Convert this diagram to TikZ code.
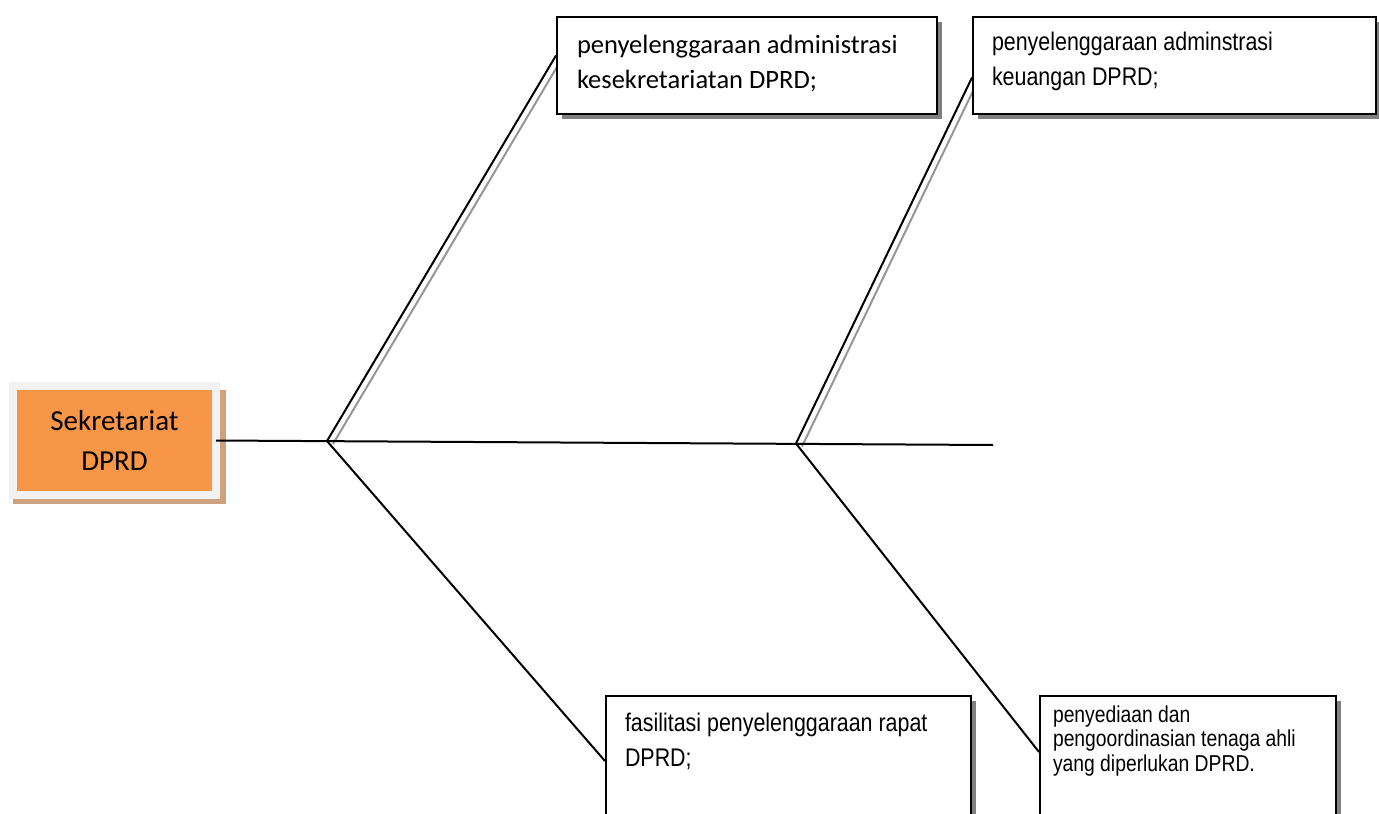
\documentclass[tikz,border=0pt]{standalone}
\usepackage{fontspec}
\usepackage{xcolor}
\usepackage{tikz}
\usetikzlibrary{positioning,shadows,backgrounds}
\newfontfamily\calibri{Carlito}
\newfontfamily\narrow[FakeStretch=0.84]{Liberation Sans}
\definecolor{dOrange}{RGB}{247,150,70}
\definecolor{dFrame}{RGB}{242,242,242}
\definecolor{dTan}{RGB}{206,162,126}
\definecolor{dShade}{RGB}{128,128,128}
\definecolor{dGrey}{RGB}{150,150,150}
\tikzset{
  headbox/.style={rectangle, draw=dFrame, line width=8pt, fill=dOrange,
                  minimum width=203pt, minimum height=109pt, align=center,
                  outer sep=0pt, font=\calibri\fontsize{29}{40}\selectfont,
                  drop shadow={shadow xshift=5pt, shadow yshift=-6pt,
                               shadow scale=1.05, fill=dTan, opacity=1}},
  cause/.style={rectangle, draw=black, line width=2pt, fill=white,
                inner xsep=20pt, inner ysep=11pt,
                drop shadow={shadow xshift=5pt, shadow yshift=-5pt,
                             fill=dShade, opacity=1}},
  calfont/.style={font=\calibri\fontsize{26.5}{35}\selectfont},
  arfont/.style={font=\narrow\fontsize{25.5}{35}\selectfont},
  bone/.style={draw=black, line width=2pt},
  boneshd/.style={draw=dGrey, line width=2pt},
}
\newcommand{\Cause}[5][]{%
  \node[cause,#1] (#2) {\parbox[c][#4][t]{#3}{\raggedright\strut #5}};}

\begin{document}
\begin{tikzpicture}[x=1pt, y=-1pt]
  \useasboundingbox (0,0) rectangle (1379,814);
  \clip (0,0) rectangle (1379,814);
  \node[headbox] (head) at (114.5,440.5) {Sekretariat\\DPRD};
  \Cause[calfont, inner ysep=11.5pt, at={(747,65.5)}]{adm}{340pt}{74pt}{%
    penyelenggaraan administrasi\\kesekretariatan DPRD;}
  \Cause[arfont, inner xsep=19pt, inner ysep=8.5pt, right=34pt of adm]{keu}{365pt}{80pt}{%
    penyelenggaraan adminstrasi\\keuangan DPRD;}
  \Cause[arfont, inner xsep=19pt, inner ysep=10.5pt, at={(788.5,766)}]{rap}{327pt}{119pt}{%
    fasilitasi penyelenggaraan rapat\\DPRD;}
  \Cause[font=\narrow\fontsize{23}{24.5}\selectfont, inner xsep=13pt, inner ysep=8.85pt,
         right=67pt of rap]{ahli}{270pt}{122.3pt}{%
    penyediaan dan\\pengoordinasian tenaga ahli\\yang diperlukan DPRD.}
  \coordinate (tail) at (993,445);
  \coordinate (j1) at (327,441);
  \coordinate (j2) at (796,443.5);
  \draw[bone] (head.east) -- (tail);
  \begin{scope}[on background layer]
    \draw[boneshd] ([shift={(6,3)}]j1) -- ([shift={(6,-7)}]adm.west);
    \draw[boneshd] ([shift={(6,3)}]j2) -- ([shift={(6,15)}]keu.west);
    \draw[bone] (j1) -- ([yshift=10pt]adm.west);
    \draw[bone] (j2) -- ([yshift=-12pt]keu.west);
    \draw[bone] (j1) -- ([yshift=5pt]rap.west);
    \draw[bone] (j2) -- ([yshift=14pt]ahli.west);
  \end{scope}
\end{tikzpicture}
\end{document}
